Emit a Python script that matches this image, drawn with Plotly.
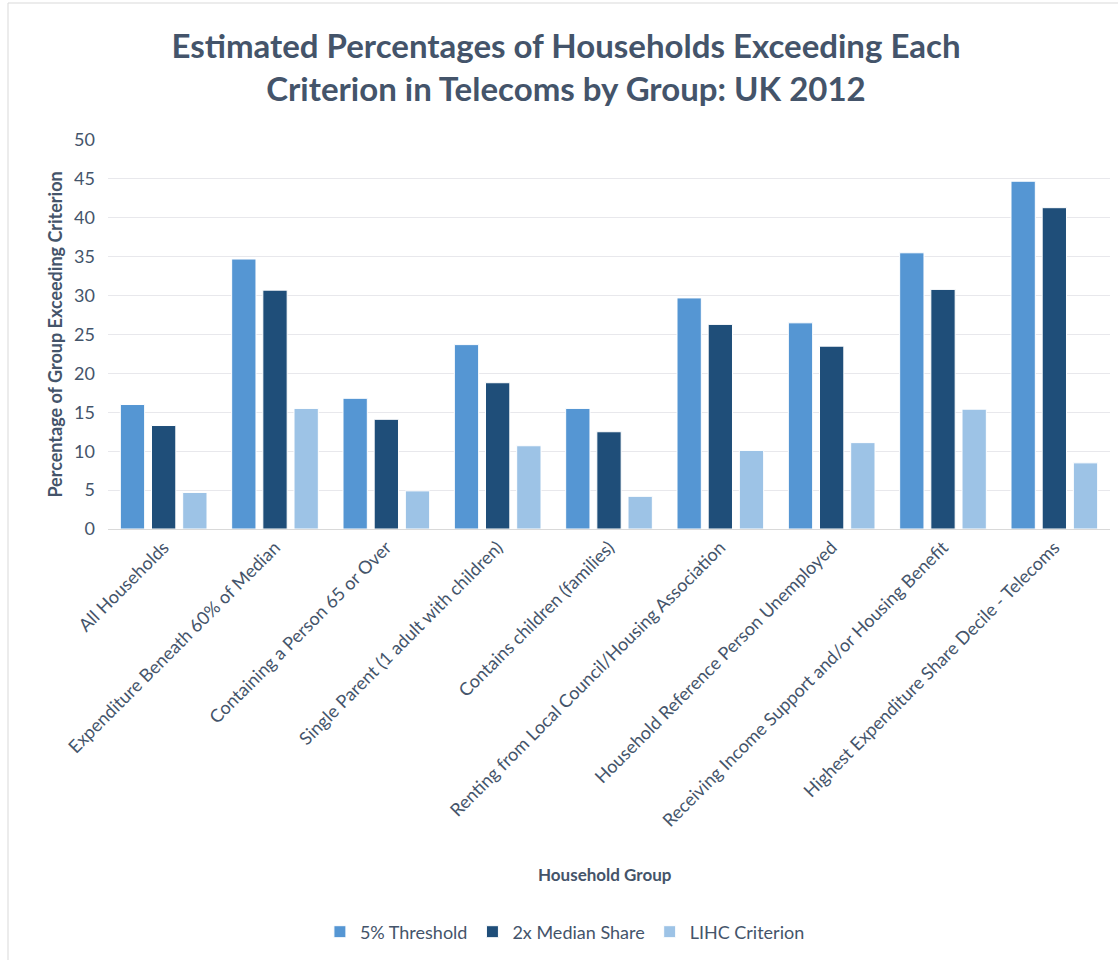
import plotly.graph_objects as go

categories = [
    "All Households",
    "Expenditure Beneath 60% of Median",
    "Containing a Person 65 or Over",
    "Single Parent (1 adult with children)",
    "Contains children (families)",
    "Renting from Local Council/Housing Association",
    "Household Reference Person Unemployed",
    "Receiving Income Support and/or Housing Benefit",
    "Highest Expenditure Share Decile - Telecoms",
]
threshold_5pct = [16.0, 34.7, 16.8, 23.7, 15.5, 29.7, 26.5, 35.5, 44.7]
median_2x = [13.3, 30.7, 14.1, 18.8, 12.5, 26.3, 23.5, 30.8, 41.3]
lihc = [4.7, 15.5, 4.9, 10.7, 4.2, 10.1, 11.1, 15.4, 8.5]

series_names = ["5% Threshold", "2x Median Share", "LIHC Criterion"]
series_colors = ["#5596d3", "#1f4e79", "#9dc3e6"]

TXT = "#44546a"
FONT = "Lato"

fig = go.Figure()
for name, vals, col in zip(series_names, [threshold_5pct, median_2x, lihc], series_colors):
    fig.add_trace(go.Bar(
        name=name, x=categories, y=vals,
        marker=dict(color=col, line=dict(color="#ffffff", width=1)),
    ))

L, R, T, B = 108, 8, 140, 431
W, H = 1118, 960
pw, ph = W - L - R, H - T - B

fig.update_layout(
    width=W, height=H,
    margin=dict(l=L, r=R, t=T, b=B),
    paper_bgcolor="white", plot_bgcolor="white",
    font=dict(family=FONT, color=TXT),
    barmode="group", bargap=0.16, bargroupgap=0.22,
    title=dict(
        text="<b>Estimated Percentages of Households Exceeding Each<br>Criterion in Telecoms by Group: UK 2012</b>",
        x=566 / W, xref="container", xanchor="center",
        y=1 - 58 / H, yref="container", yanchor="middle",
        font=dict(family=FONT, size=33, color=TXT),
    ),
    xaxis=dict(
        tickangle=-45, tickfont=dict(size=18, color=TXT, family=FONT),
        showline=True, linecolor="#d9d9d9", linewidth=1,
        ticks="", showgrid=False,
    ),
    yaxis=dict(
        range=[0, 50], dtick=5, tickfont=dict(size=18, color=TXT, family=FONT),
        showgrid=True, gridcolor="#e8e8ec", gridwidth=1,
        zeroline=False, ticks="", ticklen=0, ticklabelstandoff=12,
        title=dict(text="<b>Percentage of Group Exceeding Criterion</b>", font=dict(size=18, color=TXT, family=FONT), standoff=6),
    ),
    legend=dict(
        orientation="h", x=0.456, xanchor="center", y=-(932 - (T + ph)) / ph, yanchor="middle",
        font=dict(size=18, color=TXT, family=FONT), traceorder="normal",
        itemwidth=30,
    ),
)

fig.add_annotation(
    text="<b>Household Group</b>", xref="paper", yref="paper",
    x=(605 - L) / pw, y=-(874 - (T + ph)) / ph, xanchor="center", yanchor="middle",
    showarrow=False, font=dict(size=17, color=TXT, family=FONT),
)

# outer chart frame
fig.add_shape(
    type="rect", xref="paper", yref="paper",
    x0=(8 - L) / pw, x1=(W + 10 - L) / pw,
    y0=1 - (H + 10 - T) / ph, y1=1 + (T - 3) / ph,
    line=dict(color="#d9d9d9", width=1), fillcolor="rgba(0,0,0,0)", layer="below",
)

fig.write_html("out.html")
